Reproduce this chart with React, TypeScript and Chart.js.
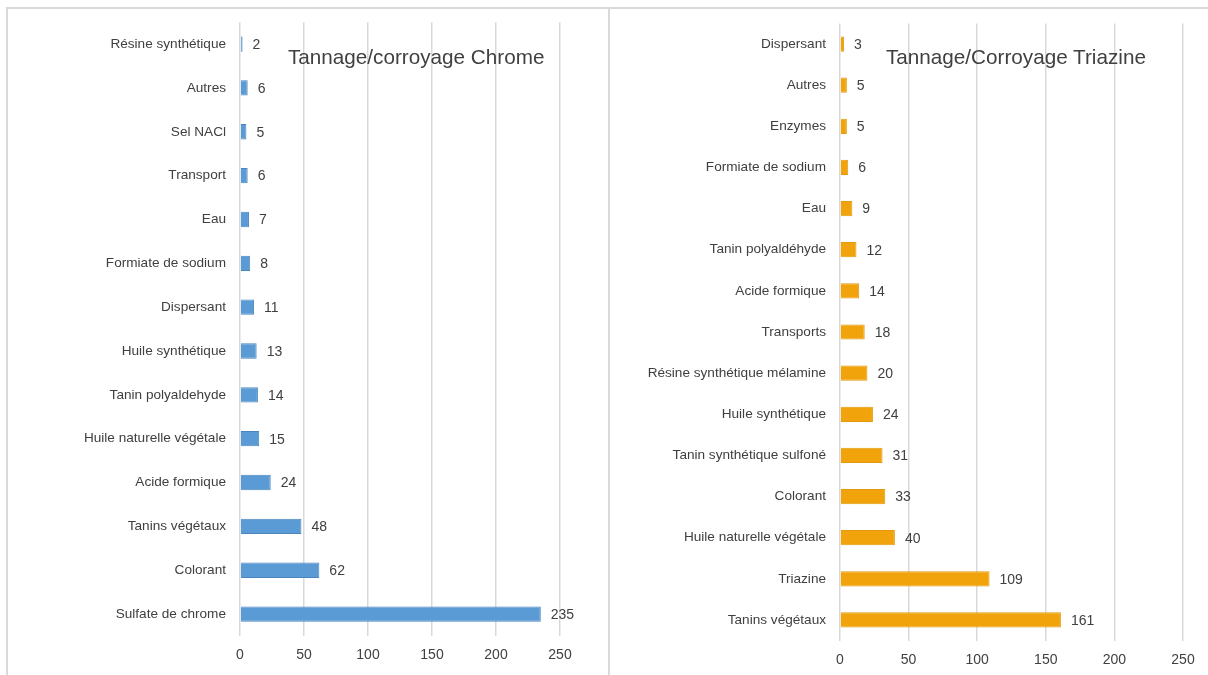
import React, { useEffect, useRef } from "react";
import { Chart, registerables } from "chart.js";

Chart.register(...registerables);

const chromeCategories = [
  "Résine synthétique",
  "Autres",
  "Sel NACl",
  "Transport",
  "Eau",
  "Formiate de sodium",
  "Dispersant",
  "Huile synthétique",
  "Tanin polyaldehyde",
  "Huile naturelle végétale",
  "Acide formique",
  "Tanins végétaux",
  "Colorant",
  "Sulfate de chrome",
];
const chromeValues = [2, 6, 5, 6, 7, 8, 11, 13, 14, 15, 24, 48, 62, 235];

const triazineCategories = [
  "Dispersant",
  "Autres",
  "Enzymes",
  "Formiate de sodium",
  "Eau",
  "Tanin polyaldéhyde",
  "Acide formique",
  "Transports",
  "Résine synthétique mélamine",
  "Huile synthétique",
  "Tanin synthétique sulfoné",
  "Colorant",
  "Huile naturelle végétale",
  "Triazine",
  "Tanins végétaux",
];
const triazineValues = [3, 5, 5, 6, 9, 12, 14, 18, 20, 24, 31, 33, 40, 109, 161];

const xTicks = [0, 50, 100, 150, 200, 250];

const FONT = "'Liberation Sans', Arial, sans-serif";
const TEXT = "#404040";
const GRID = "#d9d9d9";

const valueLabels = {
  id: "valueLabels",
  afterDatasetsDraw(chart: any) {
    const ctx = chart.ctx;
    ctx.save();
    ctx.font = `14px ${FONT}`;
    ctx.fillStyle = TEXT;
    ctx.textBaseline = "middle";
    ctx.textAlign = "left";
    chart.data.datasets.forEach((ds: any, i: number) => {
      const meta = chart.getDatasetMeta(i);
      meta.data.forEach((el: any, j: number) => {
        ctx.fillText(String(ds.data[j]), el.x + 10, el.y + 1);
      });
    });
    ctx.restore();
  },
};

function makeConfig(
  labels: string[],
  values: number[],
  fill: string,
  border: string,
  yWidth: number,
  padTop: number,
  padRight: number,
  xHeight: number,
  barPct: number
): any {
  return {
    type: "bar",
    data: {
      labels,
      datasets: [
        {
          data: values,
          backgroundColor: fill,
          borderColor: border,
          borderWidth: 1,
          barPercentage: barPct,
          categoryPercentage: 1,
        },
      ],
    },
    options: {
      indexAxis: "y",
      animation: false,
      responsive: false,
      maintainAspectRatio: false,
      layout: { padding: { top: padTop, right: padRight, left: 0, bottom: 0 } },
      plugins: {
        legend: { display: false },
        tooltip: { enabled: false },
        title: { display: false },
      },
      scales: {
        x: {
          min: 0,
          max: 250,
          afterBuildTicks: (scale: any) => {
            scale.ticks = xTicks.map((v) => ({ value: v }));
          },
          afterFit: (scale: any) => {
            scale.height = xHeight;
          },
          grid: { color: GRID, lineWidth: 1.5, drawTicks: false },
          border: { display: false },
          ticks: { color: TEXT, font: { family: FONT, size: 14 }, padding: 11 },
        },
        y: {
          afterFit: (scale: any) => {
            scale.width = yWidth;
          },
          grid: { display: false, drawTicks: false },
          border: { display: false },
          ticks: { color: TEXT, font: { family: FONT, size: 13.6 }, padding: 14 },
        },
      },
    },
    plugins: [valueLabels],
  };
}

function BarChart({ config, width, height }: { config: any; width: number; height: number }) {
  const ref = useRef<HTMLCanvasElement>(null);
  useEffect(() => {
    if (!ref.current) return;
    const chart = new Chart(ref.current, config);
    return () => chart.destroy();
  }, [config]);
  return <canvas ref={ref} width={width} height={height} style={{ width, height, display: "block" }} />;
}

const leftConfig = makeConfig(chromeCategories, chromeValues, "#5b9bd5", "#4a85bd", 240, 21, 48, 39, 0.35);
const rightConfig = makeConfig(triazineCategories, triazineValues, "#f0a30a", "#e39a0c", 231, 23.5, 25, 34.5, 0.37);

export default function App() {
  return (
    <div
      style={{
        position: "absolute",
        left: 0,
        top: 0,
        width: 1208,
        height: 675,
        overflow: "hidden",
        background: "#ffffff",
      }}
    >
      <div
        style={{
          position: "absolute",
          left: 6,
          top: 7,
          width: 700,
          height: 700,
          borderLeft: "2px solid #d9d9d9",
          borderTop: "2px solid #d9d9d9",
        }}
      />
      <div
        style={{
          position: "absolute",
          left: 608,
          top: 7,
          width: 700,
          height: 700,
          borderLeft: "2px solid #d9d9d9",
          borderTop: "2px solid #d9d9d9",
        }}
      />
      <div style={{ position: "absolute", left: 0, top: 0 }}>
        <BarChart config={leftConfig} width={608} height={675} />
      </div>
      <div style={{ position: "absolute", left: 609, top: 0 }}>
        <BarChart config={rightConfig} width={599} height={675} />
      </div>
      <div
        style={{
          position: "absolute",
          left: 288,
          top: 45,
          fontFamily: FONT,
          fontSize: 20.7,
          color: TEXT,
          whiteSpace: "nowrap",
        }}
      >
        Tannage/corroyage Chrome
      </div>
      <div
        style={{
          position: "absolute",
          left: 886,
          top: 45,
          fontFamily: FONT,
          fontSize: 20.7,
          color: TEXT,
          whiteSpace: "nowrap",
        }}
      >
        Tannage/Corroyage Triazine
      </div>
    </div>
  );
}
